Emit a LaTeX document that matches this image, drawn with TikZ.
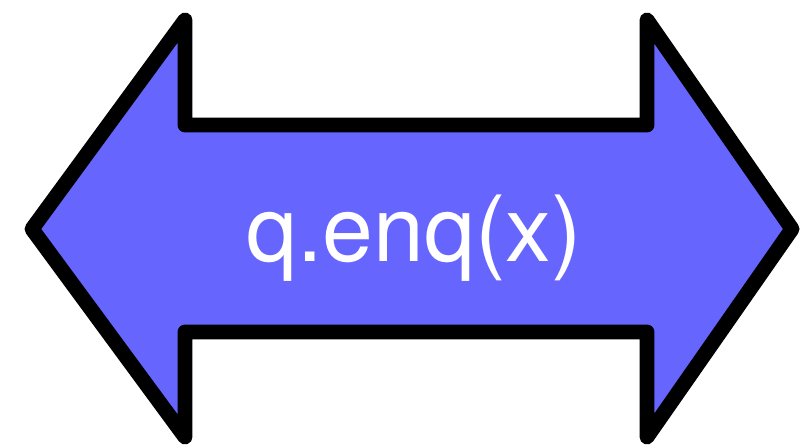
\documentclass[tikz,border=0pt]{standalone}
\usepackage{fontspec}
\setmainfont{TeX Gyre Heros}
\usepackage{tikz}
\usetikzlibrary{positioning}

\begin{document}
\begin{tikzpicture}[x=0.02cm,y=-0.02cm]
    \definecolor{arrowfill}{RGB}{102,102,255}
    \useasboundingbox (0,0) rectangle (800,445);
    \draw[fill=arrowfill,line width=8.5pt,line join=round]
      (32,229) -- (185,20) -- (185,125) -- (647,125) -- (647,20) -- (792,229)
      -- (647,437) -- (647,332) -- (185,332) -- (185,437) -- cycle;
    \node[text=white,anchor=base,inner sep=0,font=\fontsize{52}{60}\selectfont] (enq) at (414,262) {q.enq(x)};
  \end{tikzpicture}
\end{document}
